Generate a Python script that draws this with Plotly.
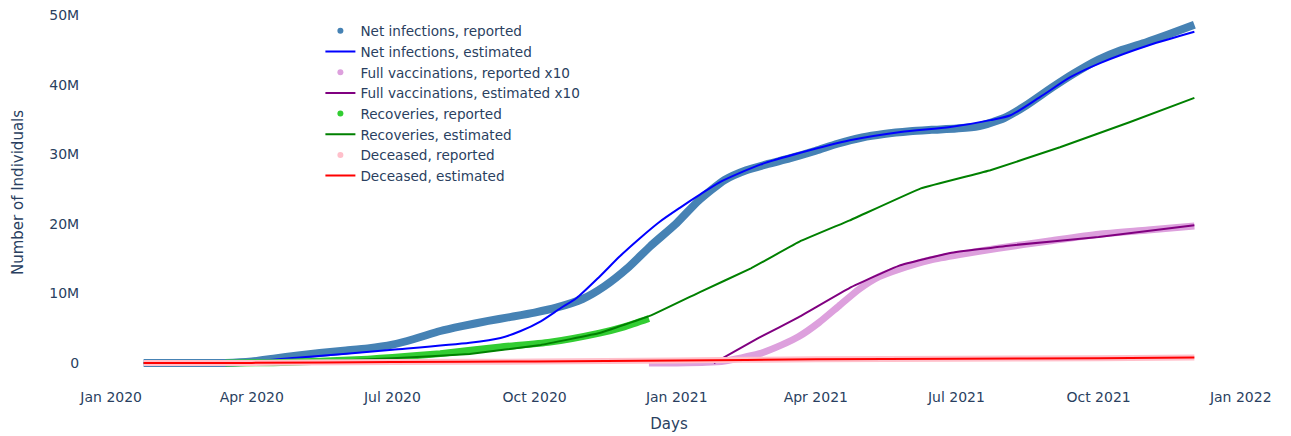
import plotly.graph_objects as go

# ---------------- data (values in millions) ----------------
net_rep_dates = ["2020-01-22","2020-03-01","2020-03-15","2020-04-01","2020-04-15","2020-05-01","2020-05-15",
                 "2020-06-01","2020-06-15","2020-07-01","2020-07-15","2020-08-01","2020-08-15","2020-09-01",
                 "2020-09-15","2020-10-01","2020-10-15","2020-11-01","2020-11-15","2020-12-01","2020-12-15",
                 "2021-01-01","2021-01-15","2021-02-01","2021-02-15","2021-03-01","2021-03-15","2021-04-01",
                 "2021-04-15","2021-05-01","2021-05-15","2021-06-01","2021-06-15","2021-07-01","2021-07-15",
                 "2021-08-01","2021-08-15","2021-09-01","2021-09-15","2021-10-01","2021-10-15","2021-11-01",
                 "2021-11-15","2021-12-02"]
net_rep_vals = [0, 0.0, 0.003, 0.21, 0.63, 1.09, 1.45,
                1.8, 2.1, 2.65, 3.45, 4.6, 5.3, 6.05,
                6.6, 7.25, 7.95, 9.2, 11.0, 13.8, 16.8,
                20.1, 23.3, 26.3, 27.7, 28.6, 29.4, 30.5,
                31.5, 32.4, 32.9, 33.3, 33.5, 33.7, 34.0,
                35.2, 37.0, 39.6, 41.6, 43.6, 44.9, 46.1,
                47.2, 48.6]

net_est_dates = ["2020-01-22","2020-03-18","2020-05-02","2020-07-01","2020-08-20","2020-09-09","2020-09-22",
                 "2020-10-05","2020-10-18","2020-10-28","2020-11-12","2020-11-25","2020-12-08","2020-12-21",
                 "2021-01-03","2021-01-16","2021-01-29","2021-02-24","2021-03-22","2021-04-23","2021-05-26",
                 "2021-06-27","2021-07-23","2021-08-05","2021-08-24","2021-09-13","2021-10-02","2021-11-03",
                 "2021-12-02"]
net_est_vals = [0, 0, 0.8, 1.9, 2.9, 3.6, 4.6,
                6.0, 7.9, 9.3, 12.4, 15.3, 17.9, 20.3,
                22.3, 24.2, 26.0, 28.5, 30.2, 32.0, 33.2,
                33.9, 34.9, 35.6, 38.2, 41.1, 43.1, 45.7,
                47.6]

vac_rep_dates = ["2020-12-14","2021-01-01","2021-01-20","2021-02-01","2021-02-23","2021-03-10","2021-03-21",
                 "2021-04-03","2021-04-16","2021-04-29","2021-05-12","2021-05-25","2021-06-14","2021-07-03",
                 "2021-07-28","2021-08-29","2021-10-01","2021-11-02","2021-12-02"]
vac_rep_vals = [0, 0.02, 0.1, 0.3, 1.3, 2.6, 3.8,
                5.8, 8.2, 10.6, 12.4, 13.5, 14.8, 15.6,
                16.5, 17.5, 18.5, 19.1, 19.7]

vac_est_dates = ["2021-01-25","2021-02-23","2021-03-21","2021-04-23","2021-05-25","2021-06-27","2021-08-05",
                 "2021-10-01","2021-12-02"]
vac_est_vals = [0, 3.6, 6.6, 10.8, 14.0, 15.8, 16.9,
                18.1, 19.8]

rec_rep_dates = ["2020-03-15","2020-04-15","2020-05-15","2020-06-15","2020-07-01","2020-08-01","2020-09-09",
                 "2020-10-11","2020-11-12","2020-11-28","2020-12-14"]
rec_rep_vals = [0.0, 0.05, 0.25, 0.55, 0.8, 1.35, 2.3,
                3.0, 4.3, 5.2, 6.4]

rec_est_dates = ["2020-01-22","2020-05-02","2020-07-01","2020-08-20","2020-10-05","2020-11-12","2020-12-15",
                 "2021-01-16","2021-02-18","2021-03-22","2021-04-23","2021-06-08","2021-07-23","2021-09-06",
                 "2021-10-21","2021-12-02"]
rec_est_vals = [0, 0.1, 0.7, 1.3, 2.6, 4.3, 6.8,
                10.2, 13.6, 17.5, 20.5, 25.1, 27.7, 31.0,
                34.6, 38.1]

dec_rep_dates = ["2020-01-22","2020-04-01","2020-05-01","2020-07-01","2020-10-01","2021-01-01","2021-04-01",
                 "2021-07-01","2021-10-01","2021-12-02"]
dec_rep_vals = [0, 0.005, 0.065, 0.13, 0.21, 0.35, 0.55,
                0.605, 0.70, 0.78]

dec_est_dates = ["2020-01-22","2020-04-01","2020-07-01","2020-10-01","2021-01-01","2021-04-01","2021-07-01",
                 "2021-10-01","2021-12-02"]
dec_est_vals = [0, 0.02, 0.13, 0.22, 0.36, 0.54, 0.61,
                0.70, 0.79]

y_ticks = [0, 10, 20, 30, 40, 50]
y_tick_labels = ["0", "10M", "20M", "30M", "40M", "50M"]

M = 1e6

def scale(v):
    return [x * M for x in v]

fig = go.Figure()

def reported(name, dates, vals, color, group, width=7):
    # visible band of reported points
    fig.add_trace(go.Scatter(x=dates, y=scale(vals), mode="lines",
                             line=dict(color=color, width=width, shape="spline", smoothing=0.6),
                             showlegend=False, legendgroup=group, hoverinfo="skip"))
    # legend entry (dot)
    fig.add_trace(go.Scatter(x=[None], y=[None], mode="markers", marker=dict(color=color, size=6),
                             name=name, legendgroup=group))

def estimated(name, dates, vals, color, group, smoothing=0.6):
    fig.add_trace(go.Scatter(x=dates, y=scale(vals), mode="lines",
                             line=dict(color=color, width=2, shape="spline", smoothing=smoothing),
                             name=name, legendgroup=group))

reported("Net infections, reported", net_rep_dates, net_rep_vals, "steelblue", "a", 8)
estimated("Net infections, estimated", net_est_dates, net_est_vals, "blue", "b", 0.7)
reported("Full vaccinations, reported x10", vac_rep_dates, vac_rep_vals, "plum", "c", 7)
estimated("Full vaccinations, estimated x10", vac_est_dates, vac_est_vals, "purple", "d", 0.3)
reported("Recoveries, reported", rec_rep_dates, rec_rep_vals, "limegreen", "e", 7)
estimated("Recoveries, estimated", rec_est_dates, rec_est_vals, "green", "f", 0.2)
reported("Deceased, reported", dec_rep_dates, dec_rep_vals, "pink", "g", 6)
estimated("Deceased, estimated", dec_est_dates, dec_est_vals, "red", "h", 0.3)

fig.update_layout(
    width=1291, height=436,
    margin=dict(l=88, r=41, t=5, b=56),
    paper_bgcolor="white", plot_bgcolor="white",
    font=dict(family="DejaVu Sans", color="#2a3f5f", size=13),
    legend=dict(x=0.2, y=0.972, xanchor="left", yanchor="top", bgcolor="rgba(0,0,0,0)",
                font=dict(size=13.6), tracegroupgap=0),
    showlegend=True,
)
fig.update_xaxes(range=["2019-12-17", "2022-01-07"], dtick="M3", tick0="2020-01-01", tickformat="%b %Y",
                 showgrid=False, zeroline=False, showline=False, tickfont=dict(size=14),
                 ticks="outside", ticklen=4, tickcolor="rgba(0,0,0,0)",
                 title=dict(text="Days", font=dict(size=15), standoff=14))
fig.update_yaxes(range=[-2.44 * M, 51.44 * M], tickvals=scale(y_ticks), ticktext=y_tick_labels,
                 showgrid=False, zeroline=False, showline=False, tickfont=dict(size=14),
                 ticks="outside", ticklen=5, tickcolor="rgba(0,0,0,0)",
                 title=dict(text="Number of Individuals", font=dict(size=15), standoff=22))

fig.write_html("out.html")
